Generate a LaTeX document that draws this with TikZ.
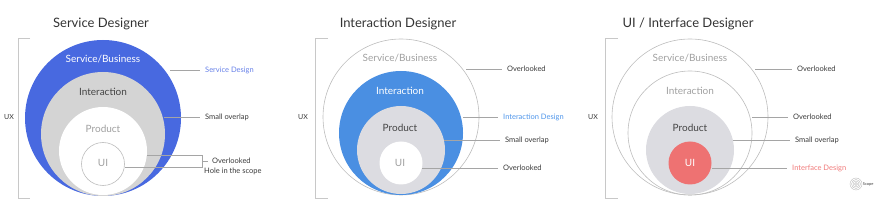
\documentclass[tikz,border=0pt]{standalone}
\usepackage{fontspec}
\setmainfont{Lato}
\usetikzlibrary{positioning}
\definecolor{svblue}{HTML}{4869E0}
\definecolor{svtext}{HTML}{6680E8}
\definecolor{inblue}{HTML}{4A8FE2}
\definecolor{intext}{HTML}{4E95EA}
\definecolor{uired}{HTML}{EE7272}
\definecolor{uitext}{HTML}{F07A7A}
\definecolor{intgray}{HTML}{D4D4D4}
\definecolor{prgray}{HTML}{DCDCE1}
\definecolor{ringgray}{HTML}{BDBDBD}
\definecolor{linegray}{HTML}{A5A5A5}
\definecolor{bracketgray}{HTML}{C8C8C8}
\definecolor{titlegray}{HTML}{333333}
\definecolor{darktext}{HTML}{444444}
\definecolor{lighttext}{HTML}{A0A0A0}
\definecolor{notegray}{HTML}{3A3A3A}

\begin{document}
\begin{tikzpicture}[x=1pt,y=-1pt,
    disc/.style={circle,inner sep=0pt,minimum size=#1},
    ring/.style={draw=ringgray,line width=0.6pt},
    title/.style={font=\fontsize{13}{15}\selectfont,text=titlegray},
    ctext/.style={font=\fontsize{10}{12}\selectfont},
    note/.style={anchor=west,inner xsep=5pt,inner ysep=1pt,font=\fontsize{7.5}{9}\selectfont,text=notegray},
    callout/.style={draw=linegray,line width=0.6pt},
    bracket/.style={draw=bracketgray,line width=0.8pt}]
  \useasboundingbox (0,0) rectangle (880,213);

  % titles
  \node[title] (t1) at (101,24) {Service Designer};
  \node[title] (t2) at (398,24) {Interaction Designer};
  \node[title] (t3) at (688,24) {UI / Interface Designer};

  % UX brackets
  \draw[bracket] (30,38) -- (18,38) -- (18,198) -- (30,198);
  \draw[bracket] (328,38) -- (315,38) -- (315,198) -- (328,198);
  \draw[bracket] (618,38) -- (605,38) -- (605,198) -- (618,198);
  \node[note,anchor=center,inner xsep=0pt,font=\fontsize{7}{8}\selectfont] (ux1) at (9,117) {UX};
  \node[note,anchor=center,inner xsep=0pt,font=\fontsize{7}{8}\selectfont] (ux2) at (303,117) {UX};
  \node[note,anchor=center,inner xsep=0pt,font=\fontsize{7}{8}\selectfont] (ux3) at (593,117) {UX};

  % service designer
  \node[disc=156pt,fill=svblue] (sb1) at (103,118) {};
  \node[disc=124pt,fill=intgray] (in1) at (103,134) {};
  \node[disc=88pt,fill=white] (pr1) at (103,151) {};
  \node[disc=43pt,fill=white,ring] (ui1) at (103,164) {};
  \node[ctext,text=white] (sb1t) at (103,59) {Service/Business};
  \node[ctext,text=darktext] (in1t) at (103,92) {Interaction};
  \node[ctext,text=lighttext] (pr1t) at (103,129) {Product};
  \node[ctext,text=lighttext] (ui1t) at (103,163) {UI};

  \coordinate (sb1c) at (170,70);
  \coordinate (in1c) at (164,117);
  \coordinate (pr1c) at (147,155);
  \coordinate (ui1c) at (125,167);
  \coordinate (br1) at (202,161);
  \node[note,text=svtext] (sb1n) at (200,70) {Service Design};
  \node[note] (in1n) at (200,117) {Small overlap};
  \node[note,inner xsep=4pt] (br1n) at (208,161) {Overlooked};
  \node[note,inner xsep=0pt] (br1m) at (204,171) {Hole in the scope};
  \draw[callout] (sb1c) -- (sb1n.west);
  \draw[callout] (in1c) -- (in1n.west);
  \draw[callout] (pr1c) -- (pr1c -| br1) -- (ui1c -| br1) -- (ui1c);
  \draw[callout] (br1) -- (br1n.west);

  % interaction designer
  \node[disc=156pt,ring] (sb2) at (401,117) {};
  \node[disc=124pt,fill=inblue] (in2) at (401,133) {};
  \node[disc=88pt,fill=prgray] (pr2) at (401,150) {};
  \node[disc=43pt,fill=white] (ui2) at (401,163) {};
  \node[ctext,text=lighttext] (sb2t) at (400,58) {Service/Business};
  \node[ctext,text=white] (in2t) at (400,91) {Interaction};
  \node[ctext,text=darktext] (pr2t) at (400,128) {Product};
  \node[ctext,text=lighttext] (ui2t) at (400,163) {UI};

  \coordinate (sb2c) at (466,69);
  \coordinate (in2c) at (463,117);
  \coordinate (pr2c) at (444,140);
  \coordinate (ui2c) at (422,168);
  \node[note] (sb2n) at (502,69) {Overlooked};
  \node[note,text=intext] (in2n) at (498,117) {Interaction Design};
  \node[note] (pr2n) at (500,140) {Small overlap};
  \node[note] (ui2n) at (498,168) {Overlooked};
  \draw[callout] (sb2c) -- (sb2n.west);
  \draw[callout] (in2c) -- (in2n.west);
  \draw[callout] (pr2c) -- (pr2n.west);
  \draw[callout] (ui2c) -- (ui2n.west);

  % ui / interface designer
  \node[disc=156pt,ring] (sb3) at (690,117) {};
  \node[disc=124pt,ring] (in3) at (690,133) {};
  \node[disc=88pt,fill=prgray] (pr3) at (690,150) {};
  \node[disc=43pt,fill=uired] (ui3) at (690,163) {};
  \node[ctext,text=lighttext] (sb3t) at (690,58) {Service/Business};
  \node[ctext,text=lighttext] (in3t) at (690,91) {Interaction};
  \node[ctext,text=darktext] (pr3t) at (690,128) {Product};
  \node[ctext,text=white] (ui3t) at (690,163) {UI};

  \coordinate (sb3c) at (755,69);
  \coordinate (in3c) at (752,117);
  \coordinate (pr3c) at (733,140);
  \coordinate (ui3c) at (712,168);
  \node[note] (sb3n) at (792,69) {Overlooked};
  \node[note] (in3n) at (788,117) {Overlooked};
  \node[note] (pr3n) at (790,140) {Small overlap};
  \node[note,text=uitext] (ui3n) at (787,168) {Interface Design};
  \draw[callout] (sb3c) -- (sb3n.west);
  \draw[callout] (in3c) -- (in3n.west);
  \draw[callout] (pr3c) -- (pr3n.west);
  \draw[callout] (ui3c) -- (ui3n.west);

  % logo
  \node[disc=12pt] (logo) at (856,184) {};
  \foreach \r in {1.5,3,4.5,6}
    \draw[ringgray,line width=0.4pt] (logo.center) circle (\r);
  \node[right=0.5pt of logo,inner sep=0pt,font=\fontsize{4}{5}\selectfont,text=notegray] (logot) {Scope};
\end{tikzpicture}
\end{document}
